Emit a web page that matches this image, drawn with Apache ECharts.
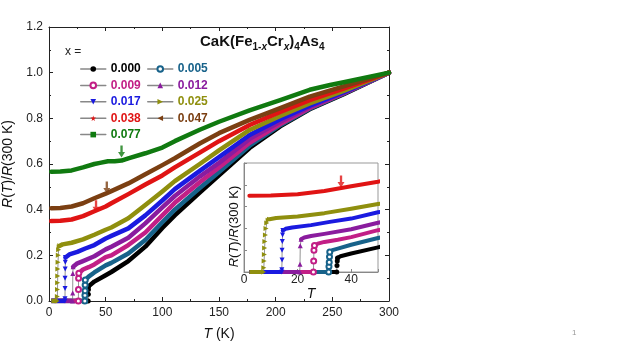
<!DOCTYPE html>
<html>
<head>
<meta charset="utf-8">
<script src="https://cdn.jsdelivr.net/npm/echarts@6/dist/echarts.min.js"></script>
<style>
  html, body { margin: 0; padding: 0; background: #fff; }
  #rtChart { width: 623px; height: 350px; }
</style>
</head>
<body>
<div id="rtChart"></div>
<script>
// R(T)/R(300 K) for CaK(Fe1-xCrx)4As4
const xLabels = ['0.000', '0.005', '0.009', '0.012', '0.017', '0.025', '0.038', '0.047', '0.077']

// normal state, [T (K), R/R300]
const r000 = [[34.9, 0.064], [36, 0.072], [40, 0.085], [50, 0.113], [55, 0.127], [70, 0.175], [85, 0.238], [100, 0.32], [111, 0.375], [133, 0.475], [150, 0.55], [177, 0.67], [204, 0.765], [230, 0.84], [260, 0.906], [300, 1.0]]
const r005 = [[32, 0.092], [33, 0.1], [35, 0.107], [40, 0.125], [50, 0.156], [55, 0.167], [70, 0.208], [85, 0.267], [100, 0.345], [111, 0.4], [133, 0.495], [150, 0.565], [177, 0.68], [204, 0.77], [230, 0.842], [260, 0.908], [300, 1.0]]
const r009 = [[26.3, 0.122], [27.5, 0.13], [30, 0.138], [35, 0.148], [40, 0.16], [50, 0.192], [55, 0.2], [70, 0.245], [85, 0.3], [100, 0.375], [111, 0.43], [133, 0.52], [150, 0.585], [177, 0.693], [204, 0.775], [230, 0.845], [260, 0.91], [300, 1.0]]
const r012 = [[21.3, 0.15], [22.5, 0.158], [25, 0.165], [30, 0.175], [40, 0.196], [50, 0.226], [55, 0.238], [70, 0.277], [85, 0.34], [100, 0.41], [111, 0.46], [133, 0.545], [150, 0.605], [177, 0.71], [204, 0.785], [230, 0.85], [260, 0.912], [300, 1.0]]
const r017 = [[14.5, 0.19], [15.5, 0.198], [18, 0.204], [25, 0.215], [32, 0.23], [40, 0.245], [50, 0.274], [55, 0.285], [70, 0.318], [85, 0.375], [100, 0.44], [111, 0.49], [133, 0.57], [150, 0.63], [177, 0.727], [204, 0.796], [230, 0.855], [260, 0.915], [300, 1.0]]
const r025 = [[9.5, 0.242], [12, 0.248], [20, 0.255], [30, 0.27], [40, 0.29], [50, 0.312], [55, 0.322], [70, 0.362], [85, 0.42], [100, 0.48], [111, 0.525], [133, 0.6], [150, 0.66], [177, 0.749], [204, 0.81], [230, 0.865], [260, 0.92], [300, 1.0]]
const r038 = [[2, 0.35], [10, 0.351], [20, 0.357], [30, 0.372], [40, 0.393], [50, 0.414], [55, 0.428], [70, 0.468], [85, 0.51], [100, 0.55], [111, 0.585], [133, 0.65], [150, 0.7], [177, 0.771], [204, 0.828], [230, 0.88], [260, 0.93], [300, 1.0]]
const r047 = [[2, 0.406], [10, 0.407], [20, 0.414], [30, 0.428], [40, 0.45], [50, 0.47], [55, 0.481], [70, 0.515], [85, 0.555], [100, 0.595], [111, 0.625], [133, 0.69], [150, 0.735], [177, 0.793], [204, 0.845], [230, 0.895], [260, 0.94], [300, 1.0]]
const r077 = [[2, 0.566], [10, 0.567], [20, 0.572], [30, 0.585], [40, 0.6], [45, 0.605], [52, 0.612], [58, 0.612], [64, 0.615], [70, 0.625], [85, 0.647], [100, 0.672], [111, 0.7], [133, 0.75], [150, 0.785], [177, 0.835], [204, 0.88], [230, 0.925], [248, 0.946], [260, 0.958], [300, 1.0]]

// superconducting drop, starting from the zero-resistance baseline
const d000 = [[2, 0], [34.6, 0], [34.7, 0.03], [34.8, 0.05], [34.9, 0.064]]
const d005 = [[2, 0], [31.6, 0], [31.7, 0.025], [31.8, 0.045], [31.9, 0.07], [32, 0.092]]
const d009 = [[2, 0], [25.9, 0], [26, 0.05], [26.1, 0.1], [26.3, 0.122]]
const d012 = [[2, 0], [20.8, 0], [20.9, 0.035], [21, 0.12], [21.3, 0.15]]
const d017 = [[2, 0], [14.1, 0], [14.1, 0.01], [14.2, 0.055], [14.2, 0.1], [14.3, 0.14], [14.4, 0.17], [14.5, 0.19]]
const d025 = [[2, 0], [7.3, 0], [7.4, 0.02], [7.5, 0.05], [7.6, 0.08], [7.7, 0.11], [7.8, 0.14], [8, 0.17], [8.2, 0.2], [8.5, 0.225], [9, 0.237], [9.5, 0.242]]

// arrows marking the kink
const arrowMain = [[64, 0.655], [51, 0.497], [41.5, 0.415]]
const arrowInset = [[36.2, 0.415]]

const colors = ['#000000', '#17628a', '#c21f86', '#8a1c9e', '#1a1ae0', '#8f8f0e', '#e01414', '#7b3f12', '#107a10']
const star = 'path://M50,0 L61,35 L98,35 L68,57 L79,91 L50,70 L21,91 L32,57 L2,35 L39,35 Z'
const symbols = ['circle', 'emptyCircle', 'emptyCircle', 'triangle', 'triangle', 'triangle', star, 'triangle', 'rect']
const rotations = [0, 0, 0, 0, 180, -90, 0, 90, 0]
const normals = [r000, r005, r009, r012, r017, r025, r038, r047, r077]
const drops = [d000, d005, d009, d012, d017, d025, null, null, null]
const inInset = [true, true, true, true, true, true, true, false, false]

const arrowPath = 'path://M3,0 L6,0 L6,7 L9,7 L4.5,13 L0,7 L3,7 Z'

function curves (inset) {
  const out = []
  const ax = inset ? 2 : 0
  const z = inset ? 12 : 2
  const w = inset ? 4 : 4.5
  xLabels.forEach((name, i) => {
    if (inset && !inInset[i]) return
    const mark = { symbol: symbols[i], symbolRotate: rotations[i], symbolKeepAspect: true }
    if (drops[i]) {
      out.push({
        type: 'line', xAxisIndex: ax, yAxisIndex: ax, z, silent: true, animation: false,
        data: drops[i].slice(0, 2), showSymbol: false,
        lineStyle: { color: colors[i], width: w }
      })
      out.push({
        type: 'line', xAxisIndex: ax, yAxisIndex: ax, z, silent: true, animation: false,
        data: drops[i].slice(1), ...mark, symbolSize: 5, showSymbol: true,
        itemStyle: { color: colors[i] },
        lineStyle: { color: '#777', width: 0.8 }
      })
    }
    out.push({
      type: 'line', name: inset ? null : name, xAxisIndex: ax, yAxisIndex: ax, z, silent: true, animation: false,
      data: normals[i], ...mark, symbolSize: 5, showSymbol: false,
      itemStyle: { color: colors[i] },
      lineStyle: { color: colors[i], width: w, cap: 'round', join: 'round' }
    })
  })
  return out
}

function arrows (pts, cols, inset) {
  const ax = inset ? 2 : 0
  return {
    type: 'scatter', xAxisIndex: ax, yAxisIndex: ax, z: inset ? 13 : 3, silent: true, animation: false,
    symbol: arrowPath, symbolSize: [7, 12],
    data: pts.map((p, i) => ({ value: p, itemStyle: { color: cols[i] } }))
  }
}

const nameRich = {
  i: { fontStyle: 'italic', fontSize: 14, color: '#111' },
  n: { fontSize: 14, color: '#111' }
}
const insetRich = {
  i: { fontStyle: 'italic', fontSize: 13, color: '#111' },
  n: { fontSize: 13, color: '#111' }
}
const axisLine = { show: true, onZero: false, lineStyle: { color: '#222', width: 1 } }
const tickIn = { inside: true, length: 4, lineStyle: { color: '#222' } }
const minorIn = { show: true, splitNumber: 2, length: 2, lineStyle: { color: '#222' } }

function legendCol (idx, left) {
  return {
    orient: 'vertical', left, top: 58, itemWidth: 25, itemHeight: 7, itemGap: 4.4,
    selectedMode: false,
    lineStyle: { color: '#888', width: 1.5 },
    textStyle: { fontSize: 12, fontWeight: 'bold', lineHeight: 12 },
    data: idx.map(i => ({ name: xLabels[i], textStyle: { color: colors[i] } }))
  }
}

const myChart = echarts.init(document.getElementById('rtChart'))
myChart.setOption({
  animation: false,
  backgroundColor: '#fff',
  textStyle: { fontFamily: 'Liberation Sans, Arial, sans-serif' },
  grid: [
    { left: 49, top: 27, width: 340, height: 274, outerBoundsMode: 'none' },
    { left: 244, top: 163, width: 134, height: 109, outerBoundsMode: 'none', show: true, z: 5, backgroundColor: '#fff', borderColor: '#999', borderWidth: 1 }
  ],
  legend: [legendCol([0, 2, 4, 6, 8], 75), legendCol([1, 3, 5, 7], 142)],
  xAxis: [
    {
      type: 'value', gridIndex: 0, position: 'bottom', min: 0, max: 300, interval: 50,
      axisLine, axisTick: tickIn, minorTick: minorIn, splitLine: { show: false },
      axisLabel: { fontSize: 12, color: '#222', margin: 6 },
      name: '{i|T}{n| (K)}', nameLocation: 'middle', nameGap: 26, nameTextStyle: { rich: nameRich }
    },
    {
      type: 'value', gridIndex: 0, position: 'top', min: 0, max: 300, interval: 50,
      axisLine, axisTick: tickIn, minorTick: minorIn, splitLine: { show: false },
      axisLabel: { show: false }
    },
    {
      type: 'value', gridIndex: 1, min: 0, max: 50, interval: 20, z: 10,
      axisLine: { show: true, onZero: false, lineStyle: { color: '#888' } },
      axisTick: { inside: true, length: 3, lineStyle: { color: '#888' } },
      minorTick: { show: true, splitNumber: 2, length: 2, lineStyle: { color: '#888' } },
      splitLine: { show: false },
      axisLabel: { fontSize: 12, color: '#222', margin: 2, showMaxLabel: false },
      name: '{i|T}', nameLocation: 'middle', nameGap: 12, nameTextStyle: { rich: nameRich }
    }
  ],
  yAxis: [
    {
      type: 'value', gridIndex: 0, position: 'left', min: 0, max: 1.2, interval: 0.2,
      axisLine, axisTick: tickIn, minorTick: minorIn, splitLine: { show: false },
      axisLabel: { fontSize: 12, color: '#222', margin: 6, formatter: v => v.toFixed(1) },
      name: '{i|R}{n|(}{i|T}{n|)/}{i|R}{n|(300 K)}', nameLocation: 'middle', nameGap: 29,
      nameTextStyle: { rich: nameRich }
    },
    {
      type: 'value', gridIndex: 0, position: 'right', min: 0, max: 1.2, interval: 0.2,
      axisLine, axisTick: tickIn, minorTick: minorIn, splitLine: { show: false },
      axisLabel: { show: false }
    },
    {
      type: 'value', gridIndex: 1, min: 0, max: 0.5, interval: 0.1, z: 10,
      axisLine: { show: true, onZero: false, lineStyle: { color: '#888' } },
      axisTick: { inside: true, length: 3, lineStyle: { color: '#888' } },
      splitLine: { show: false }, axisLabel: { show: false },
      name: '{i|R}{n|(}{i|T}{n|)/}{i|R}{n|(300 K)}', nameLocation: 'middle', nameGap: 3,
      nameTextStyle: { rich: insetRich, padding: [0, 18, 0, 0] }
    }
  ],
  graphic: [
    { type: 'text', left: 65, top: 46, style: { text: 'x =', fontSize: 12, fill: '#222', fontFamily: 'Liberation Sans' } },
    {
      type: 'text', left: 200, top: 34,
      style: {
        text: '{a|CaK(Fe}{s|1-}{si|x}{a|Cr}{si|x}{a|)}{s|4}{a|As}{s|4}',
        fontFamily: 'Liberation Sans',
        rich: {
          a: { fontSize: 15, fontWeight: 'bold', fill: '#111', lineHeight: 22, verticalAlign: 'middle', fontFamily: 'Liberation Sans' },
          s: { fontSize: 10, fontWeight: 'bold', fill: '#111', verticalAlign: 'bottom', fontFamily: 'Liberation Sans' },
          si: { fontSize: 10, fontWeight: 'bold', fontStyle: 'italic', fill: '#111', verticalAlign: 'bottom', fontFamily: 'Liberation Sans' }
        }
      }
    },
    { type: 'text', left: 572, top: 329, style: { text: '1', fontSize: 8, fill: '#999' } }
  ],
  series: [
    ...curves(false),
    arrows(arrowMain, [colors[8], colors[7], colors[6]], false),
    ...curves(true),
    arrows(arrowInset, [colors[6]], true)
  ]
})
</script>
</body>
</html>
